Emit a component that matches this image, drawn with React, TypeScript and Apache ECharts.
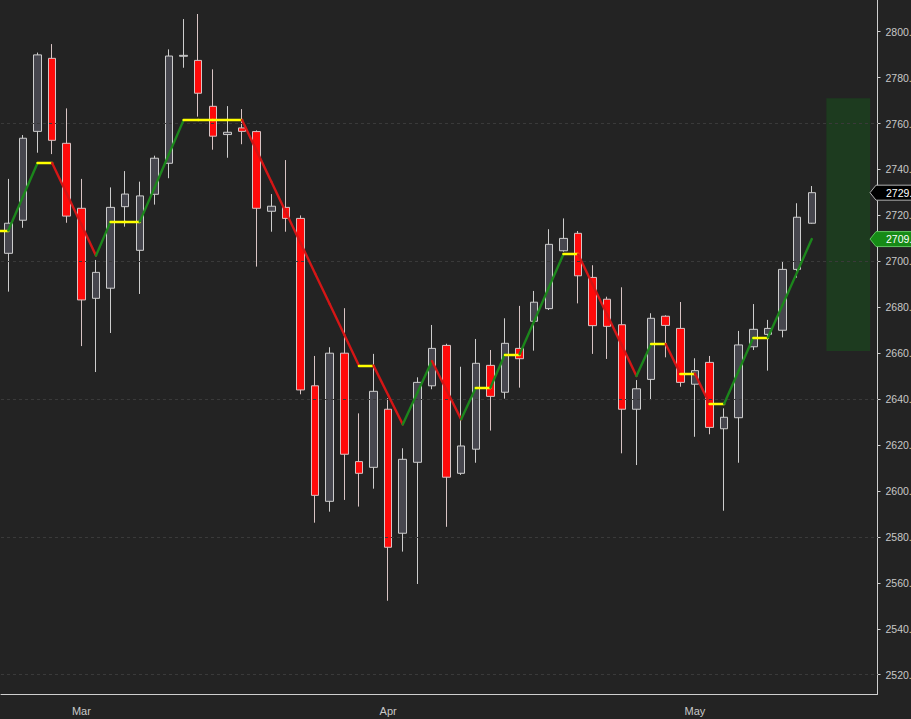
import React, { useEffect, useRef } from 'react';
import * as echarts from 'echarts';

// trading days shown on the category axis (last four are the empty projection zone)
const DATES = [
  '2018-02-22', '2018-02-23', '2018-02-26', '2018-02-27', '2018-02-28',
  '2018-03-01', '2018-03-02', '2018-03-05', '2018-03-06', '2018-03-07', '2018-03-08', '2018-03-09',
  '2018-03-12', '2018-03-13', '2018-03-14', '2018-03-15', '2018-03-16', '2018-03-19', '2018-03-20',
  '2018-03-21', '2018-03-22', '2018-03-23', '2018-03-26', '2018-03-27', '2018-03-28', '2018-03-29',
  '2018-04-02', '2018-04-03', '2018-04-04', '2018-04-05', '2018-04-06', '2018-04-09', '2018-04-10',
  '2018-04-11', '2018-04-12', '2018-04-13', '2018-04-16', '2018-04-17', '2018-04-18', '2018-04-19',
  '2018-04-20', '2018-04-23', '2018-04-24', '2018-04-25', '2018-04-26', '2018-04-27', '2018-04-30',
  '2018-05-01', '2018-05-02', '2018-05-03', '2018-05-04', '2018-05-07', '2018-05-08', '2018-05-09',
  '2018-05-10', '2018-05-11',
  '2018-05-14', '2018-05-15', '2018-05-16', '2018-05-17',
];

const OPEN = [
  2703.5, 2717.9, 2756.6, 2788.4, 2751.4, 2723.1, 2683.9, 2688.3, 2723.8, 2704.8,
  2729.2, 2742.7, 2789.3, 2787.5, 2767.5, 2755.2, 2758.1, 2756.5, 2721.8, 2723.5,
  2718.7, 2645.8, 2595.5, 2660.0, 2612.8, 2610.3, 2635.6, 2581.6, 2612.5, 2645.8,
  2663.4, 2607.7, 2618.2, 2654.7, 2643.0, 2662.1, 2673.9, 2679.4, 2704.6, 2712.2,
  2693.0, 2683.5, 2672.4, 2635.6, 2648.6, 2676.1, 2670.8, 2646.5, 2656.0, 2627.1,
  2631.9, 2662.8, 2668.2, 2670.0, 2696.5, 2716.6,
];
const HIGH = [
  2735.9, 2755.0, 2790.9, 2794.6, 2766.6, 2735.9, 2700.6, 2732.2, 2739.3, 2734.7,
  2746.0, 2792.3, 2805.5, 2807.7, 2783.6, 2767.6, 2766.3, 2757.0, 2729.3, 2744.1,
  2720.0, 2658.8, 2662.6, 2679.6, 2633.8, 2659.7, 2640.4, 2618.6, 2649.5, 2672.3,
  2664.1, 2654.1, 2666.2, 2661.4, 2675.2, 2680.6, 2687.1, 2714.0, 2718.7, 2713.2,
  2698.3, 2684.6, 2688.7, 2648.3, 2677.4, 2676.5, 2682.3, 2657.8, 2658.8, 2636.0,
  2669.7, 2681.4, 2674.5, 2700.1, 2725.3, 2732.8,
];
const LOW = [
  2686.8, 2714.6, 2747.3, 2746.7, 2716.8, 2663.1, 2651.8, 2668.8, 2715.1, 2685.8,
  2724.7, 2736.2, 2784.3, 2763.0, 2748.6, 2745.1, 2751.0, 2697.7, 2712.9, 2712.9,
  2642.1, 2586.2, 2591.0, 2596.1, 2593.2, 2601.0, 2552.2, 2573.6, 2559.5, 2644.3,
  2584.4, 2607.0, 2612.3, 2626.3, 2640.2, 2645.0, 2661.1, 2678.8, 2704.2, 2681.7,
  2659.7, 2657.5, 2616.4, 2611.3, 2639.6, 2658.2, 2645.4, 2623.6, 2624.7, 2591.4,
  2612.3, 2661.4, 2652.4, 2666.9, 2692.9, 2716.4,
];
const CLOSE = [
  2716.6, 2753.6, 2789.9, 2752.7, 2719.7, 2683.2, 2695.2, 2723.5, 2729.3, 2728.5,
  2744.9, 2789.4, 2789.7, 2773.2, 2754.5, 2756.2, 2756.6, 2723.1, 2724.0, 2718.7,
  2644.0, 2598.1, 2660.0, 2616.0, 2607.7, 2643.4, 2575.5, 2613.8, 2647.3, 2662.1,
  2606.0, 2619.6, 2655.6, 2641.2, 2664.3, 2657.6, 2682.2, 2707.4, 2710.0, 2693.7,
  2672.0, 2671.7, 2635.6, 2644.5, 2675.2, 2672.1, 2647.3, 2652.4, 2627.7, 2632.1,
  2663.6, 2670.4, 2670.8, 2696.5, 2719.2, 2729.9,
];

// trend line (value before the first visible bar, then one value per bar)
const TREND_PREV = 2713.4;
const TREND = [
  2713.4, 2728.1, 2742.8, 2742.8, 2729.4, 2716.0, 2702.5, 2717.3, 2717.3, 2717.3,
  2731.9, 2746.7, 2761.5, 2761.5, 2761.5, 2761.5, 2761.5, 2748.1, 2734.8, 2721.4,
  2708.1, 2694.7, 2681.4, 2668.0, 2654.6, 2654.6, 2641.8, 2629.0, 2642.8, 2656.6,
  2643.9, 2631.2, 2645.0, 2645.0, 2659.5, 2659.5, 2674.0, 2688.6, 2703.1, 2703.1,
  2689.9, 2676.6, 2663.4, 2650.1, 2664.0, 2664.0, 2651.1, 2651.1, 2638.0, 2638.0,
  2652.4, 2666.8, 2666.8, 2681.0, 2695.3, 2709.7,
];

const Y_TICKS = [2520, 2540, 2560, 2580, 2600, 2620, 2640, 2660, 2680, 2700, 2720, 2740, 2760, 2780, 2800];
const GRID_LEVELS = [2520, 2580, 2640, 2700, 2760];
const ZONE_FROM = '2018-05-14';
const ZONE_TO = '2018-05-17';
const ZONE_LOW = 2661;
const ZONE_HIGH = 2771;
const MONTHS = ['Jan', 'Feb', 'Mar', 'Apr', 'May', 'Jun', 'Jul', 'Aug', 'Sep', 'Oct', 'Nov', 'Dec'];

const Y_MIN = 2511.6;
const Y_MAX = 2813.8;

const W = 911;
const H = 719;
const GRID_RIGHT = 33.5;
const FONT = 'Liberation Sans, Arial, sans-serif';
const AXIS_COLOR = '#cfcfcf';
const UP = '#1c861c';
const DOWN = '#d41616';
const FLAT = '#ffff00';

const isMonthStart = (i: number) => i > 0 && DATES[i].slice(5, 7) !== DATES[i - 1].slice(5, 7);

export default function App() {
  const ref = useRef<HTMLDivElement>(null);

  useEffect(() => {
    if (!ref.current) return;
    const chart = echarts.init(ref.current, null, { renderer: 'svg' });

    const candles = OPEN.map((o, i) => [o, CLOSE[i], LOW[i], HIGH[i]]);
    const segColor = (a: number, b: number) => (b > a ? UP : b < a ? DOWN : FLAT);
    const segs = [
      { coords: [[-1, TREND_PREV], [0, TREND[0]]], lineStyle: { color: segColor(TREND_PREV, TREND[0]) } },
      ...TREND.slice(1).map((v, k) => ({
        coords: [[k, TREND[k]], [k + 1, v]],
        lineStyle: { color: segColor(TREND[k], v) },
      })),
    ];

    const option: any = {
      animation: false,
      backgroundColor: '#232323',
      textStyle: { fontFamily: FONT },
      grid: {
        left: 1,
        right: GRID_RIGHT,
        top: 0,
        bottom: 25,
        containLabel: false,
        outerBoundsMode: 'none',
      },
      xAxis: {
        type: 'category',
        data: DATES,
        boundaryGap: true,
        axisLine: { lineStyle: { color: AXIS_COLOR, width: 1 } },
        axisTick: {
          alignWithLabel: true,
          interval: (i: number) => isMonthStart(i),
          length: 4,
          lineStyle: { color: AXIS_COLOR },
        },
        axisLabel: {
          interval: (i: number) => isMonthStart(i),
          formatter: (v: string) => MONTHS[parseInt(v.slice(5, 7), 10) - 1],
          color: '#c8c8c8',
          fontSize: 11,
          margin: 11,
          fontFamily: FONT,
        },
        splitLine: { show: false },
      },
      yAxis: {
        type: 'value',
        position: 'right',
        min: Y_MIN,
        max: Y_MAX,
        scale: true,
        axisLine: { show: true, lineStyle: { color: AXIS_COLOR, width: 1 } },
        axisTick: { show: true, length: 3, customValues: Y_TICKS, lineStyle: { color: AXIS_COLOR } },
        axisLabel: {
          customValues: Y_TICKS,
          formatter: (v: number) => v.toFixed(2),
          color: '#c8c8c8',
          fontSize: 10.5,
          margin: 8,
          fontFamily: FONT,
        },
        splitLine: { show: false },
      },
      series: [
        {
          type: 'line',
          name: 'frame',
          data: [],
          z: 1,
          silent: true,
          markLine: {
            silent: true,
            symbol: ['none', 'none'],
            label: { show: false },
            lineStyle: { type: [3, 3], color: '#3a3a3a', width: 1 },
            data: GRID_LEVELS.map((v) => ({ yAxis: v })),
          },
          markArea: {
            silent: true,
            itemStyle: { color: '#1d3b1f' },
            data: [[{ xAxis: ZONE_FROM, yAxis: ZONE_HIGH }, { xAxis: ZONE_TO, yAxis: ZONE_LOW }]],
          },
        },
        {
          type: 'candlestick',
          data: candles,
          barWidth: 8,
          z: 2,
          itemStyle: {
            color: '#46464e',
            color0: '#ff0a0a',
            borderColor: '#cdcdcd',
            borderColor0: '#d8c4c4',
            borderWidth: 1,
          },
        },
        {
          type: 'lines',
          coordinateSystem: 'cartesian2d',
          polyline: false,
          silent: true,
          z: 5,
          data: segs,
          lineStyle: { width: 2.4, opacity: 1, cap: 'round' },
        },
      ],
    };

    chart.setOption(option);

    const axisX = W - GRID_RIGHT;
    const tag = (value: number, fill: string, stroke: string) => {
      const y = chart.convertToPixel({ yAxisIndex: 0 }, value) as number;
      return [
        {
          type: 'polygon',
          z: 100,
          shape: {
            points: [
              [axisX - 7.5, y],
              [axisX - 1.5, y - 7.5],
              [axisX + 60, y - 7.5],
              [axisX + 60, y + 7.5],
              [axisX - 1.5, y + 7.5],
            ],
          },
          style: { fill, stroke, lineWidth: 1 },
        },
        {
          type: 'text',
          z: 101,
          style: {
            text: value.toFixed(2),
            x: axisX + 8.5,
            y,
            fill: '#ffffff',
            fontSize: 10.5,
            fontFamily: FONT,
            align: 'left',
            verticalAlign: 'middle',
          },
        },
      ];
    };

    chart.setOption({
      graphic: [
        ...tag(CLOSE[CLOSE.length - 1], '#000000', '#b0b0b0'),
        ...tag(TREND[TREND.length - 1], '#168a16', '#5fc45f'),
      ],
    });

    return () => chart.dispose();
  }, []);

  return (
    <div
      ref={ref}
      style={{ position: 'fixed', left: 0, top: 0, width: W, height: H }}
    />
  );
}
